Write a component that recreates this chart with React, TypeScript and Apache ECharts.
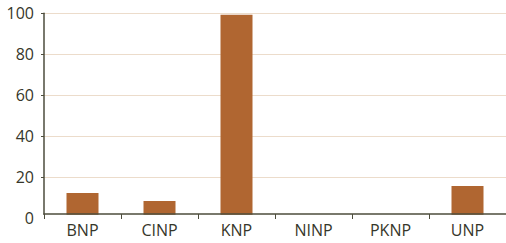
import React, { useEffect, useRef } from "react";
import * as echarts from "echarts";

const categories = ["BNP", "CINP", "KNP", "NINP", "PKNP", "UNP"];
const values = [12.2, 8.3, 99.3, 0, 0, 15.6];
const yTicks = [0, 20, 40, 60, 80, 100];

export default function App() {
  const ref = useRef<HTMLDivElement>(null);
  useEffect(() => {
    if (!ref.current) return;
    const chart = echarts.init(ref.current, null, { renderer: "svg" });
    const font = "'Open Sans', 'Noto Sans', sans-serif";
    chart.setOption({
      animation: false,
      grid: { left: 44, right: -4.5, top: 13.3, bottom: 25 },
      xAxis: {
        type: "category",
        data: categories,
        offset: -4,
        z: 10,
        axisLine: { lineStyle: { color: "#4d4d3d", width: 1.5 } },
        axisTick: { show: true, length: 5, lineStyle: { color: "#4d4d3d" } },
        axisLabel: { color: "#36362a", fontSize: 16, fontFamily: font, margin: 8 },
      },
      yAxis: {
        type: "value",
        min: yTicks[0],
        max: yTicks[yTicks.length - 1],
        interval: 20,
        z: 1,
        axisLine: { show: true, lineStyle: { color: "#4d4d3d", width: 1.5 } },
        axisTick: { show: true, length: 3, lineStyle: { color: "#4d4d3d" } },
        axisLabel: { color: "#36362a", fontSize: 16, fontFamily: font, margin: 10 },
        splitLine: { show: true, lineStyle: { color: "#ecdccb", width: 1 } },
      },
      graphic: [
        {
          type: "rect",
          z: 5,
          shape: { x: 40, y: 214.8, width: 470, height: 5 },
          style: { fill: "#ffffff" },
        },
      ],
      series: [
        {
          type: "bar",
          data: values,
          barWidth: 32,
          z: 2,
          itemStyle: { color: "#b06631" },
        },
      ],
    });
    return () => chart.dispose();
  }, []);
  return <div ref={ref} style={{ width: 506, height: 243, position: "absolute", left: 0, top: 0 }} />;
}
